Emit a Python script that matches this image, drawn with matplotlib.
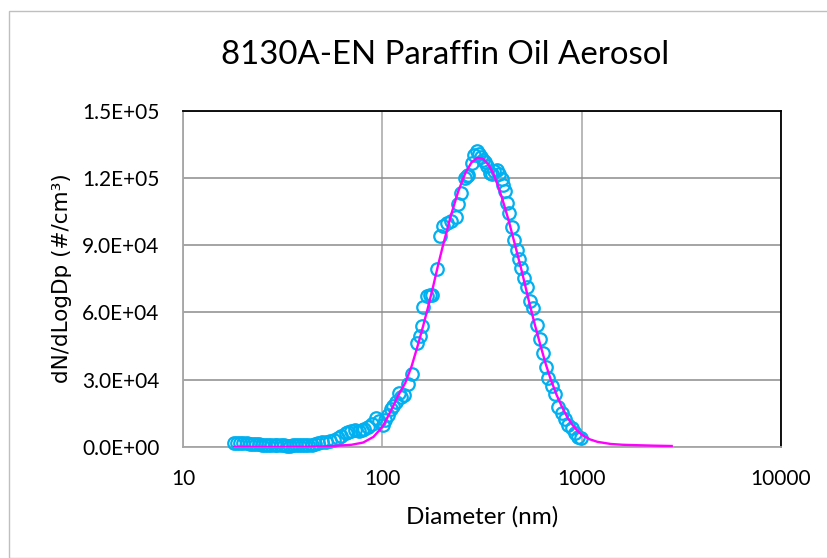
import matplotlib
matplotlib.use("Agg")
import matplotlib.pyplot as plt
from matplotlib.ticker import FuncFormatter, FixedLocator, NullLocator
from matplotlib.patches import Rectangle

W, H = 828, 558

# measured scatter (diameter nm, dN/dLogDp)
diam_meas = [18.0, 18.7, 19.3, 20.0, 20.8, 21.5, 22.3, 23.1, 24.0, 24.8, 25.7, 26.7,
             27.6, 28.7, 29.7, 30.8, 31.9, 33.1, 34.3, 35.5, 36.8, 38.2, 39.6, 41.0,
             42.5, 44.1, 45.7, 47.4, 49.8, 52.0, 54.6, 57.0, 59.8, 62.0, 65.5, 67.5,
             69.6, 72.8, 76.3, 79.0, 81.1, 85.0, 88.9, 92.8, 96.0, 100.4, 103.5, 106.8,
             110.1, 113.5, 117.0, 120.6, 124.5, 128.2, 134.6, 140.5, 149.3, 154.0, 157.4,
             160.2, 166.7, 172.5, 176.5, 187.0, 194.4, 201.8, 211.0, 222.0, 235.0, 240.4,
             249.0, 258.7, 265.0, 270.0, 280.0, 287.0, 297.6, 304.0, 310.6, 318.0, 326.2,
             335.0, 345.0, 355.0, 364.0, 374.0, 385.0, 396.0, 404.0, 412.0, 422.0, 433.0,
             445.0, 457.0, 471.0, 484.0, 496.0, 513.0, 531.0, 550.0, 571.0, 594.0, 618.0,
             641.5, 662.0, 680.0, 707.0, 734.5, 763.0, 793.5, 824.4, 856.4, 891.0, 925.6,
             961.5, 990.0]
conc_meas = [1900, 1850, 1800, 1700, 1600, 1500, 1400, 1300, 1200, 1100, 1000, 900,
             850, 800, 750, 700, 700, 650, 650, 700, 700, 750, 800, 900,
             1000, 1100, 1300, 1600, 2060, 2300, 2540, 3100, 3810, 4800, 6030, 6800,
             7300, 7500, 7300, 7800, 8090, 9000, 10470, 12850, 11500, 9680, 12000, 14440,
             16820, 18500, 20000, 23960, 22500, 23170, 27930, 32690, 46180, 49360, 54000,
             62600, 67500, 68000, 67600, 79400, 94000, 98700, 99900, 100600, 102500, 108200,
             113300, 119980, 121000, 121250, 126600, 130290, 131880, 130500, 129500, 128000, 127120,
             125500, 122200, 121600, 123000, 123700, 121600, 119500, 117000, 114000, 109000, 104300,
             98300, 92400, 87900, 84000, 80000, 75300, 71300, 64900, 61900, 54500, 48200,
             41800, 35600, 30700, 27200, 23600, 17990, 15000, 12350, 9820, 8350, 6100,
             4600, 3800]

# fitted curve
diam_fit = [18, 30, 40, 50, 60, 70, 80, 90, 100, 110, 120, 130, 140, 150, 160, 170,
            180, 190, 200, 220, 240, 260, 280, 300, 320, 340, 360, 380, 400, 430, 460,
            500, 540, 580, 620, 660, 700, 750, 800, 850, 900, 950, 1000, 1100, 1200,
            1400, 1600, 1900, 2300, 2830]
conc_fit = [0, 5, 40, 200, 600, 1000, 2000, 4500, 9000, 16000, 23000, 28500, 36000, 45000,
            54000, 63000, 72000, 81000, 89000, 103000, 114000, 122000, 127000, 129000,
            128500, 126000, 122000, 116500, 110500, 101000, 91000, 78500, 66000, 55000,
            45500, 37000, 30000, 23000, 17500, 13000, 9800, 7300, 5500, 3400, 2300,
            1350, 1000, 800, 600, 450]

x_ticks = [10, 100, 1000, 10000]
x_tick_labels = ["10", "100", "1000", "10000"]
y_ticks = [0, 30000, 60000, 90000, 120000, 150000]

title = "8130A-EN Paraffin Oil Aerosol"
xlabel = "Diameter (nm)"
ylabel = "dN/dLogDp (#/cm\u00b3)"

fig = plt.figure(figsize=(W / 100, H / 100), dpi=100)
fig.patch.set_facecolor("white")

# chart-area border
fig.patches.append(Rectangle((8.5 / W, 0), 1.0, 1 - 10.5 / H, transform=fig.transFigure,
                             fill=False, edgecolor="#bfbfbf", linewidth=1.0, zorder=0))

L, R, T, B = 183.3, 780.9, 110.7, 447.0
ax = fig.add_axes([L / W, 1 - B / H, (R - L) / W, (B - T) / H])
ax.set_xscale("log")
ax.set_xlim(10, 10000)
ax.set_ylim(0, 150000)

ax.xaxis.set_major_locator(FixedLocator(x_ticks))
ax.xaxis.set_minor_locator(NullLocator())
ax.set_xticklabels(x_tick_labels)
ax.yaxis.set_major_locator(FixedLocator(y_ticks))
ax.yaxis.set_major_formatter(FuncFormatter(lambda v, p: f"{v:.1E}"))

ax.grid(True, axis="x", color="#a6a6a6", linewidth=1.1, zorder=0)
ax.grid(True, axis="y", color="#8c8c8c", linewidth=1.1, zorder=0)
ax.set_axisbelow(True)

for s in ("top", "right"):
    ax.spines[s].set_color("black")
    ax.spines[s].set_linewidth(1.3)
for s in ("left", "bottom"):
    ax.spines[s].set_color("#a6a6a6")
    ax.spines[s].set_linewidth(1.3)

ax.tick_params(axis="both", length=0)
ax.tick_params(axis="y", pad=17)
ax.tick_params(axis="x", pad=16)
for lab in ax.get_xticklabels() + ax.get_yticklabels():
    lab.set_fontfamily("Lato")
    lab.set_fontsize(15)
    lab.set_color("black")

ax.plot(diam_meas, conc_meas, linestyle="none", marker="o", markersize=9,
        markerfacecolor="none", markeredgecolor="#00b0f0", markeredgewidth=1.6, zorder=3,
        clip_on=False)
ax.plot(diam_fit, conc_fit, color="#ff00ff", linewidth=1.7, zorder=4)

fig.text(445 / W, 1 - 55 / H, title, ha="center", va="center", fontsize=23.8,
         family="Lato", color="black")
fig.text(482.5 / W, 1 - 517 / H, xlabel, ha="center", va="center", fontsize=17.5,
         family="Lato", color="black")
fig.text(62 / W, 1 - 278 / H, ylabel, ha="center", va="center", fontsize=15.5,
         rotation=90, family="DejaVu Sans", color="black")

fig.savefig("out.png", dpi=100)
